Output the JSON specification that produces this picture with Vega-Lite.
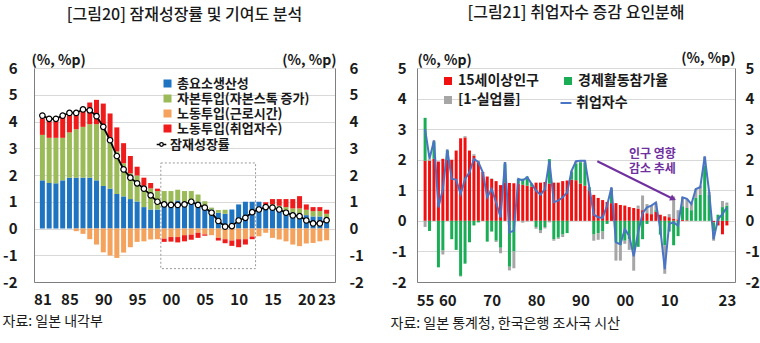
{
  "$schema": "https://vega.github.io/schema/vega-lite/v6.json",
  "padding": {"left": 2, "top": 5, "right": 0, "bottom": 0},
  "config": {
    "font": "Noto Sans CJK KR",
    "view": {"stroke": null},
    "axis": {"labelFont": "Noto Sans CJK KR", "labelFontSize": 15, "labelFontWeight": "bold", "labelColor": "#1a1a1a", "titleFont": "Noto Sans CJK KR", "titleFontSize": 14, "titleFontWeight": "bold", "titleColor": "#1a1a1a", "domain": true, "domainColor": "#7f7f7f", "ticks": false, "gridColor": "#d9d9d9"},
    "legend": {"labelFont": "Noto Sans CJK KR", "labelFontSize": 13, "labelFontWeight": "bold", "labelColor": "#1a1a1a"},
    "title": {"font": "Noto Sans CJK KR", "fontSize": 16, "fontWeight": 500, "color": "#1a1a1a"},
    "concat": {"spacing": 26}
  },
  "resolve": {"scale": {"color": "independent", "stroke": "independent"}, "legend": {"color": "independent", "stroke": "independent"}},
  "datasets": {
    "L": [
      {"year": 1981, "a_tfp": 1.8, "b_cap": 1.7, "c_hrs": 0, "d_emp": 0.62, "pot": 4.22},
      {"year": 1982, "a_tfp": 1.7, "b_cap": 1.69, "c_hrs": 0, "d_emp": 0.62, "pot": 4.1},
      {"year": 1983, "a_tfp": 1.69, "b_cap": 1.7, "c_hrs": 0, "d_emp": 0.62, "pot": 4.1},
      {"year": 1984, "a_tfp": 1.8, "b_cap": 1.59, "c_hrs": 0, "d_emp": 0.85, "pot": 4.22},
      {"year": 1985, "a_tfp": 1.9, "b_cap": 1.69, "c_hrs": 0, "d_emp": 0.65, "pot": 4.32},
      {"year": 1986, "a_tfp": 1.9, "b_cap": 1.81, "c_hrs": -0.1, "d_emp": 0.57, "pot": 4.32},
      {"year": 1987, "a_tfp": 1.9, "b_cap": 1.9, "c_hrs": -0.2, "d_emp": 0.62, "pot": 4.45},
      {"year": 1988, "a_tfp": 1.9, "b_cap": 2.0, "c_hrs": -0.4, "d_emp": 0.81, "pot": 4.42},
      {"year": 1989, "a_tfp": 1.8, "b_cap": 2.1, "c_hrs": -0.6, "d_emp": 0.91, "pot": 4.2},
      {"year": 1990, "a_tfp": 1.59, "b_cap": 2.11, "c_hrs": -0.89, "d_emp": 0.97, "pot": 3.8},
      {"year": 1991, "a_tfp": 1.49, "b_cap": 1.86, "c_hrs": -1.01, "d_emp": 0.95, "pot": 3.3},
      {"year": 1992, "a_tfp": 1.29, "b_cap": 1.59, "c_hrs": -1.1, "d_emp": 0.9, "pot": 2.71},
      {"year": 1993, "a_tfp": 1.2, "b_cap": 1.24, "c_hrs": -0.9, "d_emp": 0.75, "pot": 2.21},
      {"year": 1994, "a_tfp": 1.1, "b_cap": 0.96, "c_hrs": -0.7, "d_emp": 0.65, "pot": 1.9},
      {"year": 1995, "a_tfp": 1.01, "b_cap": 0.97, "c_hrs": -0.5, "d_emp": 0.33, "pot": 1.69},
      {"year": 1996, "a_tfp": 0.8, "b_cap": 0.8, "c_hrs": -0.48, "d_emp": 0.3, "pot": 1.49},
      {"year": 1997, "a_tfp": 0.71, "b_cap": 0.79, "c_hrs": -0.41, "d_emp": 0.2, "pot": 1.24},
      {"year": 1998, "a_tfp": 0.71, "b_cap": 0.69, "c_hrs": -0.4, "d_emp": 0.09, "pot": 1.0},
      {"year": 1999, "a_tfp": 0.95, "b_cap": 0.45, "c_hrs": -0.38, "d_emp": -0.12, "pot": 0.9},
      {"year": 2000, "a_tfp": 0.95, "b_cap": 0.45, "c_hrs": -0.32, "d_emp": -0.17, "pot": 0.88},
      {"year": 2001, "a_tfp": 1.05, "b_cap": 0.4, "c_hrs": -0.32, "d_emp": -0.2, "pot": 0.88},
      {"year": 2002, "a_tfp": 0.96, "b_cap": 0.44, "c_hrs": -0.25, "d_emp": -0.23, "pot": 0.9},
      {"year": 2003, "a_tfp": 1.07, "b_cap": 0.33, "c_hrs": -0.23, "d_emp": -0.19, "pot": 1.0},
      {"year": 2004, "a_tfp": 1.0, "b_cap": 0.27, "c_hrs": -0.16, "d_emp": -0.19, "pot": 0.88},
      {"year": 2005, "a_tfp": 0.84, "b_cap": 0.18, "c_hrs": -0.22, "d_emp": -0.05, "pot": 0.78},
      {"year": 2006, "a_tfp": 0.71, "b_cap": 0.07, "c_hrs": -0.25, "d_emp": 0.0, "pot": 0.59},
      {"year": 2007, "a_tfp": 0.59, "b_cap": 0.1, "c_hrs": -0.35, "d_emp": -0.1, "pot": 0.28},
      {"year": 2008, "a_tfp": 0.55, "b_cap": 0.15, "c_hrs": -0.4, "d_emp": -0.15, "pot": 0.07},
      {"year": 2009, "a_tfp": 0.71, "b_cap": 0.0, "c_hrs": -0.45, "d_emp": -0.2, "pot": 0.09},
      {"year": 2010, "a_tfp": 0.9, "b_cap": 0.0, "c_hrs": -0.4, "d_emp": -0.3, "pot": 0.3},
      {"year": 2011, "a_tfp": 1.0, "b_cap": 0.0, "c_hrs": -0.4, "d_emp": -0.2, "pot": 0.4},
      {"year": 2012, "a_tfp": 1.0, "b_cap": 0.0, "c_hrs": -0.3, "d_emp": -0.1, "pot": 0.61},
      {"year": 2013, "a_tfp": 1.0, "b_cap": 0.0, "c_hrs": -0.29, "d_emp": 0.0, "pot": 0.71},
      {"year": 2014, "a_tfp": 0.78, "b_cap": 0.1, "c_hrs": -0.16, "d_emp": 0.1, "pot": 0.8},
      {"year": 2015, "a_tfp": 0.75, "b_cap": 0.15, "c_hrs": -0.35, "d_emp": 0.2, "pot": 0.78},
      {"year": 2016, "a_tfp": 0.7, "b_cap": 0.15, "c_hrs": -0.41, "d_emp": 0.25, "pot": 0.71},
      {"year": 2017, "a_tfp": 0.65, "b_cap": 0.15, "c_hrs": -0.48, "d_emp": 0.3, "pot": 0.59},
      {"year": 2018, "a_tfp": 0.6, "b_cap": 0.15, "c_hrs": -0.6, "d_emp": 0.35, "pot": 0.49},
      {"year": 2019, "a_tfp": 0.55, "b_cap": 0.2, "c_hrs": -0.66, "d_emp": 0.46, "pot": 0.46},
      {"year": 2020, "a_tfp": 0.5, "b_cap": 0.2, "c_hrs": -0.56, "d_emp": 0.2, "pot": 0.3},
      {"year": 2021, "a_tfp": 0.45, "b_cap": 0.2, "c_hrs": -0.54, "d_emp": 0.15, "pot": 0.19},
      {"year": 2022, "a_tfp": 0.45, "b_cap": 0.2, "c_hrs": -0.48, "d_emp": 0.15, "pot": 0.19},
      {"year": 2023, "a_tfp": 0.4, "b_cap": 0.15, "c_hrs": -0.44, "d_emp": 0.15, "pot": 0.31}
    ],
    "R": [
      {"year": 1955, "a_pop": 1.97, "b_lfpr": 1.4, "c_unemp": -0.2, "emp": 3.0},
      {"year": 1956, "a_pop": 1.97, "b_lfpr": -0.33, "c_unemp": 0.05, "emp": 2.03},
      {"year": 1957, "a_pop": 2.03, "b_lfpr": 0.55, "c_unemp": 0.05, "emp": 2.63},
      {"year": 1958, "a_pop": 1.94, "b_lfpr": -1.52, "c_unemp": 0.0, "emp": 0.44},
      {"year": 1959, "a_pop": 2.03, "b_lfpr": -0.97, "c_unemp": -0.13, "emp": 1.04},
      {"year": 1960, "a_pop": 2.0, "b_lfpr": 0.3, "c_unemp": 0.03, "emp": 2.33},
      {"year": 1961, "a_pop": 2.0, "b_lfpr": -0.6, "c_unemp": 0.0, "emp": 1.37},
      {"year": 1962, "a_pop": 2.3, "b_lfpr": -0.95, "c_unemp": 0.0, "emp": 1.35},
      {"year": 1963, "a_pop": 2.7, "b_lfpr": -1.8, "c_unemp": -0.02, "emp": 0.88},
      {"year": 1964, "a_pop": 2.73, "b_lfpr": -1.4, "c_unemp": 0.04, "emp": 1.37},
      {"year": 1965, "a_pop": 2.3, "b_lfpr": -0.7, "c_unemp": 0.0, "emp": 1.59},
      {"year": 1966, "a_pop": 2.13, "b_lfpr": -0.15, "c_unemp": 0.05, "emp": 2.03},
      {"year": 1967, "a_pop": 1.92, "b_lfpr": -0.05, "c_unemp": 0.05, "emp": 1.92},
      {"year": 1968, "a_pop": 1.6, "b_lfpr": 0.0, "c_unemp": 0.0, "emp": 1.59},
      {"year": 1969, "a_pop": 1.45, "b_lfpr": -0.68, "c_unemp": 0.0, "emp": 0.77},
      {"year": 1970, "a_pop": 1.37, "b_lfpr": -0.35, "c_unemp": 0.02, "emp": 1.04},
      {"year": 1971, "a_pop": 1.3, "b_lfpr": -0.65, "c_unemp": -0.04, "emp": 0.61},
      {"year": 1972, "a_pop": 1.17, "b_lfpr": -0.88, "c_unemp": -0.18, "emp": 0.11},
      {"year": 1973, "a_pop": 1.26, "b_lfpr": 0.6, "c_unemp": 0.06, "emp": 1.92},
      {"year": 1974, "a_pop": 1.24, "b_lfpr": -1.5, "c_unemp": -0.12, "emp": -0.38},
      {"year": 1975, "a_pop": 1.23, "b_lfpr": -1.0, "c_unemp": -0.55, "emp": -0.32},
      {"year": 1976, "a_pop": 1.22, "b_lfpr": 0.15, "c_unemp": 0.0, "emp": 1.37},
      {"year": 1977, "a_pop": 1.18, "b_lfpr": 0.2, "c_unemp": -0.06, "emp": 1.32},
      {"year": 1978, "a_pop": 1.15, "b_lfpr": 0.3, "c_unemp": -0.02, "emp": 1.43},
      {"year": 1979, "a_pop": 1.12, "b_lfpr": 0.1, "c_unemp": 0.0, "emp": 1.21},
      {"year": 1980, "a_pop": 1.25, "b_lfpr": -0.2, "c_unemp": -0.06, "emp": 0.99},
      {"year": 1981, "a_pop": 1.25, "b_lfpr": -0.3, "c_unemp": -0.1, "emp": 0.85},
      {"year": 1982, "a_pop": 1.27, "b_lfpr": -0.2, "c_unemp": -0.05, "emp": 1.04},
      {"year": 1983, "a_pop": 1.22, "b_lfpr": 0.8, "c_unemp": -0.05, "emp": 1.97},
      {"year": 1984, "a_pop": 1.25, "b_lfpr": -0.6, "c_unemp": -0.05, "emp": 0.61},
      {"year": 1985, "a_pop": 1.25, "b_lfpr": -0.55, "c_unemp": -0.04, "emp": 0.66},
      {"year": 1986, "a_pop": 1.3, "b_lfpr": -0.45, "c_unemp": -0.08, "emp": 0.77},
      {"year": 1987, "a_pop": 1.32, "b_lfpr": -0.4, "c_unemp": 0.0, "emp": 0.93},
      {"year": 1988, "a_pop": 1.35, "b_lfpr": 0.25, "c_unemp": 0.04, "emp": 1.64},
      {"year": 1989, "a_pop": 1.33, "b_lfpr": 0.55, "c_unemp": 0.07, "emp": 1.95},
      {"year": 1990, "a_pop": 1.22, "b_lfpr": 0.7, "c_unemp": 0.05, "emp": 1.97},
      {"year": 1991, "a_pop": 1.15, "b_lfpr": 0.75, "c_unemp": 0.07, "emp": 1.97},
      {"year": 1992, "a_pop": 1.0, "b_lfpr": 0.1, "c_unemp": 0.0, "emp": 1.1},
      {"year": 1993, "a_pop": 0.85, "b_lfpr": -0.45, "c_unemp": -0.2, "emp": 0.2},
      {"year": 1994, "a_pop": 0.75, "b_lfpr": -0.4, "c_unemp": -0.22, "emp": 0.12},
      {"year": 1995, "a_pop": 0.68, "b_lfpr": -0.35, "c_unemp": -0.25, "emp": 0.1},
      {"year": 1996, "a_pop": 0.62, "b_lfpr": -0.1, "c_unemp": 0.0, "emp": 0.5},
      {"year": 1997, "a_pop": 0.58, "b_lfpr": 0.45, "c_unemp": 0.05, "emp": 1.1},
      {"year": 1998, "a_pop": 0.58, "b_lfpr": -0.7, "c_unemp": -0.6, "emp": -0.7},
      {"year": 1999, "a_pop": 0.52, "b_lfpr": -0.8, "c_unemp": -0.5, "emp": -0.77},
      {"year": 2000, "a_pop": 0.5, "b_lfpr": -0.65, "c_unemp": -0.1, "emp": -0.27},
      {"year": 2001, "a_pop": 0.45, "b_lfpr": -0.6, "c_unemp": -0.35, "emp": -0.49},
      {"year": 2002, "a_pop": 0.42, "b_lfpr": -0.95, "c_unemp": -0.68, "emp": -1.16},
      {"year": 2003, "a_pop": 0.4, "b_lfpr": -0.85, "c_unemp": 0.1, "emp": -0.38},
      {"year": 2004, "a_pop": 0.35, "b_lfpr": -0.6, "c_unemp": 0.48, "emp": 0.25},
      {"year": 2005, "a_pop": 0.25, "b_lfpr": -0.1, "c_unemp": 0.3, "emp": 0.44},
      {"year": 2006, "a_pop": 0.22, "b_lfpr": 0.0, "c_unemp": 0.3, "emp": 0.5},
      {"year": 2007, "a_pop": 0.3, "b_lfpr": 0.05, "c_unemp": 0.25, "emp": 0.6},
      {"year": 2008, "a_pop": 0.2, "b_lfpr": -0.45, "c_unemp": 0.0, "emp": -0.27},
      {"year": 2009, "a_pop": 0.15, "b_lfpr": -0.8, "c_unemp": -0.93, "emp": -1.58},
      {"year": 2010, "a_pop": 0.12, "b_lfpr": -0.35, "c_unemp": 0.1, "emp": -0.1},
      {"year": 2011, "a_pop": 0.08, "b_lfpr": -0.8, "c_unemp": 0.72, "emp": -0.05},
      {"year": 2012, "a_pop": 0.05, "b_lfpr": -0.5, "c_unemp": 0.3, "emp": -0.16},
      {"year": 2013, "a_pop": 0.03, "b_lfpr": 0.45, "c_unemp": 0.3, "emp": 0.77},
      {"year": 2014, "a_pop": 0.02, "b_lfpr": 0.4, "c_unemp": 0.3, "emp": 0.72},
      {"year": 2015, "a_pop": 0.0, "b_lfpr": 0.35, "c_unemp": 0.25, "emp": 0.55},
      {"year": 2016, "a_pop": 0.0, "b_lfpr": 0.75, "c_unemp": 0.3, "emp": 1.04},
      {"year": 2017, "a_pop": 0.0, "b_lfpr": 0.85, "c_unemp": 0.3, "emp": 1.1},
      {"year": 2018, "a_pop": 0.0, "b_lfpr": 1.8, "c_unemp": 0.3, "emp": 2.11},
      {"year": 2019, "a_pop": 0.0, "b_lfpr": 0.85, "c_unemp": 0.1, "emp": 0.95},
      {"year": 2020, "a_pop": -0.05, "b_lfpr": -0.3, "c_unemp": -0.3, "emp": -0.6},
      {"year": 2021, "a_pop": -0.15, "b_lfpr": 0.2, "c_unemp": 0.0, "emp": 0.06},
      {"year": 2022, "a_pop": -0.44, "b_lfpr": 0.45, "c_unemp": 0.2, "emp": 0.22},
      {"year": 2023, "a_pop": -0.15, "b_lfpr": 0.5, "c_unemp": 0.1, "emp": 0.44}
    ]
  },
  "hconcat": [
    {
      "width": 301,
      "height": 214,
      "title": {"text": "[그림20] 잠재성장률 및 기여도 분석", "offset": 30},
      "encoding": {
        "x": {
          "field": "year", "type": "quantitative",
          "scale": {"domain": [1980.5, 2023.5], "nice": false, "zero": false},
          "axis": {"values": [1981, 1985, 1990, 1995, 2000, 2005, 2010, 2015, 2020, 2023], "labelExpr": "substring('' + datum.value, 2, 4)", "grid": false, "labelPadding": 10, "labelFlush": false, "title": "자료: 일본 내각부", "titleFontWeight": "normal", "titleFontSize": 14, "titleAnchor": "start", "titleAlign": "left", "titleBaseline": "middle", "titleX": -32, "titleY": 39}
        }
      },
      "layer": [
        {
          "data": {"values": [{"year": 1998.5, "year2": 2012.5, "lo": -1.5, "hi": 2.45}]},
          "mark": {"type": "rect", "fillOpacity": 0, "stroke": "#9a9a9a", "strokeDash": [2, 2], "strokeWidth": 1},
          "encoding": {
            "x2": {"field": "year2"},
            "y": {"field": "lo", "type": "quantitative", "scale": {"domain": [-2, 6], "nice": false}, "axis": null},
            "y2": {"field": "hi"}
          }
        },
        {
          "data": {"name": "L"},
          "transform": [{"fold": ["a_tfp", "b_cap", "c_hrs", "d_emp"], "as": ["s", "v"]}],
          "mark": {"type": "bar", "width": 5},
          "encoding": {
            "y": {"field": "v", "type": "quantitative", "stack": "zero", "scale": {"domain": [-2, 6], "nice": false},
              "axis": {"orient": "left", "values": [-2, -1, 0, 1, 2, 3, 4, 5, 6], "labelExpr": "'' + datum.value", "grid": true, "labelPadding": 17, "title": "(%, %p)", "titleAngle": 0, "titleX": -3, "titleY": -1, "titleAlign": "left", "titleBaseline": "bottom"}},
            "order": {"field": "s", "sort": "ascending"},
            "color": {"field": "s", "type": "nominal",
              "scale": {"domain": ["a_tfp", "b_cap", "c_hrs", "d_emp"], "range": ["#1f74c1", "#9bbb59", "#f4a25c", "#f01c1c"]},
              "legend": {"orient": "none", "legendX": 127, "legendY": 9, "title": null, "symbolType": "square", "symbolSize": 64, "rowPadding": 1, "labelOffset": 3,
                "labelExpr": "{'a_tfp': '총요소생산성', 'b_cap': '자본투입(자본스톡 증가)', 'c_hrs': '노동투입(근로시간)', 'd_emp': '노동투입(취업자수)'}[datum.label]"}}
          }
        },
        {
          "data": {"name": "L"},
          "mark": {"type": "line", "strokeWidth": 1.8, "point": {"filled": true, "fill": "white", "stroke": "black", "strokeWidth": 1.2, "size": 30}},
          "encoding": {
            "y": {"field": "pot", "type": "quantitative", "scale": {"domain": [-2, 6], "nice": false},
              "axis": {"orient": "right", "values": [-2, -1, 0, 1, 2, 3, 4, 5, 6], "labelExpr": "'' + datum.value", "grid": false, "labelPadding": 14, "title": "(%, %p)", "titleAngle": 0, "titleX": 1, "titleY": -1, "titleAlign": "right", "titleBaseline": "bottom"}},
            "stroke": {"datum": "잠재성장률", "scale": {"range": ["#000000"]},
              "legend": {"orient": "none", "legendX": 121, "legendY": 70, "title": null, "symbolType": "M-1.6,0L-0.6,0M0.6,0L1.6,0M0.6,0A0.6,0.6,0,1,1,-0.6,0A0.6,0.6,0,1,1,0.6,0", "symbolSize": 36, "symbolFillColor": "white", "symbolStrokeWidth": 1.3, "labelOffset": 2}}
          }
        }
      ],
      "resolve": {"axis": {"y": "independent"}}
    },
    {
      "width": 318,
      "height": 214,
      "title": {"text": "[그림21] 취업자수 증감 요인분해", "offset": 30},
      "encoding": {
        "x": {
          "field": "year", "type": "quantitative",
          "scale": {"domain": [1954.3, 2023.7], "nice": false, "zero": false},
          "axis": {"values": [1955, 1960, 1970, 1980, 1990, 2000, 2010, 2023], "labelExpr": "substring('' + datum.value, 2, 4)", "grid": false, "labelPadding": 11, "labelFlush": false, "title": "자료: 일본 통계청, 한국은행 조사국 시산", "titleFontWeight": "normal", "titleFontSize": 14, "titleAnchor": "start", "titleAlign": "left", "titleBaseline": "middle", "titleX": -27, "titleY": 41}
        }
      },
      "layer": [
        {
          "data": {"name": "R"},
          "transform": [{"fold": ["a_pop", "b_lfpr", "c_unemp"], "as": ["s", "v"]}],
          "mark": {"type": "bar", "width": 3},
          "encoding": {
            "y": {"field": "v", "type": "quantitative", "stack": "zero", "scale": {"domain": [-2, 5], "nice": false},
              "axis": {"orient": "left", "values": [-2, -1, 0, 1, 2, 3, 4, 5], "labelExpr": "'' + datum.value", "grid": true, "labelPadding": 11, "title": "(%, %p)", "titleAngle": 0, "titleX": 0, "titleY": -1, "titleAlign": "left", "titleBaseline": "bottom"}},
            "order": {"field": "s", "sort": "ascending"},
            "color": {"field": "s", "type": "nominal",
              "scale": {"domain": ["a_pop", "c_unemp", "b_lfpr"], "range": ["#f01010", "#a6a6a6", "#1aad55"]},
              "legend": {"orient": "none", "legendX": 24, "legendY": 6, "title": null, "columns": 2, "columnPadding": 22, "symbolType": "square", "symbolSize": 64, "rowPadding": 5, "labelOffset": 3, "labelFontSize": 14,
                "labelExpr": "{'a_pop': '15세이상인구', 'b_lfpr': '경제활동참가율', 'c_unemp': '[1-실업률]'}[datum.label]"}}
          }
        },
        {
          "data": {"name": "R"},
          "mark": {"type": "line", "strokeWidth": 2},
          "encoding": {
            "y": {"field": "emp", "type": "quantitative", "scale": {"domain": [-2, 5], "nice": false},
              "axis": {"orient": "right", "values": [-2, -1, 0, 1, 2, 3, 4, 5], "labelExpr": "'' + datum.value", "grid": false, "labelPadding": 10, "title": "(%, %p)", "titleAngle": 0, "titleX": 0, "titleY": -3, "titleAlign": "right", "titleBaseline": "bottom"}},
            "stroke": {"datum": "취업자수", "scale": {"range": ["#4a74c4"]},
              "legend": {"orient": "none", "legendX": 142, "legendY": 28, "title": null, "symbolType": "stroke", "symbolSize": 120, "symbolStrokeWidth": 2, "labelFontSize": 14, "labelOffset": 3}}
          }
        },
        {
          "data": {"values": [{"year": 1993.8, "year2": 2010.6, "a": 1.95, "b": 0.74}]},
          "mark": {"type": "rule", "color": "#7030a0", "strokeWidth": 2},
          "encoding": {
            "x2": {"field": "year2"},
            "y": {"field": "a", "type": "quantitative", "scale": {"domain": [-2, 5], "nice": false}, "axis": null},
            "y2": {"field": "b"}
          }
        },
        {
          "data": {"values": [{"year": 2010.9, "a": 0.72}]},
          "mark": {"type": "point", "shape": "triangle-right", "angle": 26, "size": 45, "filled": true, "color": "#7030a0", "opacity": 1},
          "encoding": {
            "y": {"field": "a", "type": "quantitative", "scale": {"domain": [-2, 5], "nice": false}, "axis": null}
          }
        },
        {
          "data": {"values": [{"year": 2006.2, "a": 2.19, "t": "인구 영향"}, {"year": 2006.2, "a": 1.68, "t": "감소 추세"}]},
          "mark": {"type": "text", "color": "#7030a0", "fontSize": 12, "fontWeight": "bold", "font": "Noto Sans CJK KR"},
          "encoding": {
            "y": {"field": "a", "type": "quantitative", "scale": {"domain": [-2, 5], "nice": false}, "axis": null},
            "text": {"field": "t"}
          }
        }
      ],
      "resolve": {"axis": {"y": "independent"}}
    }
  ]
}
